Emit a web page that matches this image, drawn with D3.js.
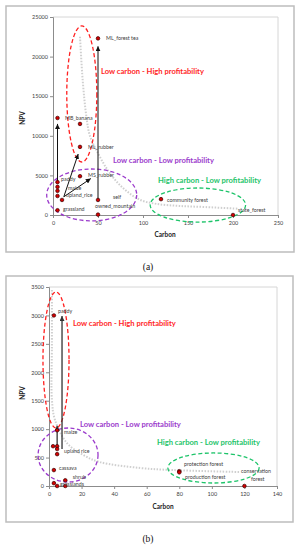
<!DOCTYPE html>
<html>
<head>
<meta charset="utf-8">
<script src="https://cdn.jsdelivr.net/npm/d3@7"></script>
<style>
  body { margin: 0; background: #fff; }
  text { font-family: Lato, "Open Sans", sans-serif; }
</style>
</head>
<body>
<svg id="chart"></svg>
<script>
// ---- panel (a) data ----
const xTicksA = [0, 50, 100, 150, 200, 250]
const yTicksA = [0, 5000, 10000, 15000, 20000, 25000]
const pointsA = [
  [50, 22300], [5, 12250], [30, 11500], [30, 8600], [30, 4900],
  [5, 4150], [5, 3550], [5, 3050], [5, 2400], [10, 1900], [5, 600],
  [50, 1900], [50, 50], [120, 2000], [200, 0]
]
const labelsA = [
  ["ML_forest tea", 59, 22220], ["MB_banana", 13.3, 12120], ["ML_rubber", 39, 8460],
  ["MS_rubber", 39, 4920], ["paddy", 9, 4420], ["maize", 16.7, 3280],
  ["upland_rice", 14.4, 2400], ["grassland", 11, 630], ["self", 66.7, 2150],
  ["owned_mountain", 46.7, 1010], ["community forest", 126.7, 1770], ["state_forest", 205.6, 505]
]
const arrowsA = [
  [5, 4150, 5, 11500], [50, 1900, 50, 21300], [12, 2300, 28, 7700], [12, 2300, 42, 4600]
]
const curveA = [
  [30, 22500], [33, 17000], [37, 12500], [41, 10000], [50, 7800], [60, 5800], [70, 4300],
  [82, 3000], [97, 1900], [115, 1400], [140, 1150], [170, 1000], [205, 800]
]
const zonesA = [
  {zone: "high", cx: 32, cy: 15280, rx: 16.7, ry: 8590, text: "Low carbon - High profitability", tx: 53.3, ty: 18050},
  {zone: "low", cx: 43, cy: 2530, rx: 50, ry: 3280, text: "Low carbon - Low profitability", tx: 66.7, ty: 6820},
  {zone: "carbon", cx: 161, cy: 1260, rx: 53, ry: 2150, text: "High carbon - Low profitability", tx: 116.7, ty: 4290}
]

// ---- panel (b) data ----
const xTicksB = [0, 20, 40, 60, 80, 100, 120, 140]
const yTicksB = [0, 500, 1000, 1500, 2000, 2500, 3000, 3500]
const pointsB = [
  [3, 3000], [5, 980], [2.5, 700], [5, 700], [5, 650], [5, 560], [3, 280],
  [3, 50], [5, 0], [10, 100], [10, 0], [80, 260], [80, 240], [120, 0]
]
const labelsB = [
  ["paddy", 5.5, 3060], ["maize", 9.2, 930], ["upland rice", 9.2, 600], ["cassava", 6.1, 300],
  ["shrub", 14.6, 150], ["grasslands", 6.8, 30], ["protection forest", 82.9, 370],
  ["production forest", 83.5, 140], ["conservation", 117.9, 246], ["forest", 124, 105]
]
const arrowsB = [[8, 650, 8, 2990], [5, 700, 5, 1060]]
const curveB = [
  [1.8, 3447], [1.8, 2500], [1.8, 1512], [3.7, 1161], [11, 756], [21, 545],
  [31, 422], [56, 317], [76, 281], [117, 246]
]
const zonesB = [
  {zone: "high", cx: 4.3, cy: 2216, rx: 8, ry: 1196, text: "Low carbon - High profitability", tx: 14.7, ty: 2850},
  {zone: "low", cx: 11.7, cy: 545, rx: 18.4, ry: 475, text: "Low carbon - Low profitability", tx: 19, ty: 1070},
  {zone: "carbon", cx: 101, cy: 317, rx: 28, ry: 264, text: "High carbon - Low profitability", tx: 66.3, ty: 756}
]

const zoneColour = {high: "#ff1f1f", low: "#9b3bcc", carbon: "#1ec46a"}

const svg = d3.select("#chart").attr("width", 299).attr("height", 550)

const defs = svg.append("defs")
function addMarker(id, colour) {
  defs.append("marker")
    .attr("id", id)
    .attr("viewBox", "0 0 10 10")
    .attr("refX", 10).attr("refY", 5)
    .attr("markerWidth", 5).attr("markerHeight", 5)
    .attr("markerUnits", "userSpaceOnUse")
    .attr("orient", "auto")
    .append("path")
    .attr("d", "M0,0L10,5L0,10Z")
    .attr("fill", colour)
}
addMarker("headBlack", "#111")
addMarker("headGrey", "#333")

function drawPanel(p) {
  const g = svg.append("g")

  // outer frame
  g.append("rect")
    .attr("x", p.box[0]).attr("y", p.box[1])
    .attr("width", p.box[2] - p.box[0]).attr("height", p.box[3] - p.box[1])
    .attr("fill", "#fff").attr("stroke", "#bdbdbd").attr("stroke-width", 1.5)

  const x = d3.scaleLinear().domain(p.xDomain).range([p.plot[0], p.plot[2]])
  const y = d3.scaleLinear().domain(p.yDomain).range([p.plot[3], p.plot[1]])

  // plot area border (top / right)
  g.append("path")
    .attr("d", `M${p.plot[0]},${p.plot[1]}H${p.plot[2]}V${p.plot[3]}`)
    .attr("fill", "none").attr("stroke", "#d6d6d6").attr("stroke-width", 1)

  const xAxis = g.append("g")
    .attr("transform", `translate(0,${p.plot[3]})`)
    .call(d3.axisBottom(x).tickValues(p.xTicks).tickFormat(d3.format("d")).tickSize(3).tickPadding(3))
  const yAxis = g.append("g")
    .attr("transform", `translate(${p.plot[0]},0)`)
    .call(d3.axisLeft(y).tickValues(p.yTicks).tickFormat(d3.format("d")).tickSize(3).tickPadding(2))
  ;[xAxis, yAxis].forEach(a => {
    a.select(".domain").attr("stroke", "#8c8c8c")
    a.selectAll(".tick line").attr("stroke", "#8c8c8c")
    a.selectAll(".tick text").attr("fill", "#404040")
      .style("font-size", "5.5px").style("font-family", "Lato, sans-serif")
  })

  // axis titles
  g.append("text")
    .attr("x", p.xTitle[0]).attr("y", p.xTitle[1])
    .attr("text-anchor", "middle").attr("dominant-baseline", "middle")
    .attr("font-size", 6.5).attr("font-weight", "bold").attr("fill", "#222")
    .text("Carbon")
  g.append("text")
    .attr("transform", `translate(${p.yTitle[0]},${p.yTitle[1]}) rotate(-90)`)
    .attr("text-anchor", "middle").attr("dominant-baseline", "middle")
    .attr("font-size", 6.5).attr("font-weight", "bold").attr("fill", "#222")
    .text("NPV")

  // trade-off curve
  g.append("path")
    .datum(p.curve)
    .attr("d", d3.line().x(d => x(d[0])).y(d => y(d[1])).curve(d3.curveCatmullRom))
    .attr("fill", "none").attr("stroke", "#cfcfcf")
    .attr("stroke-width", 2).attr("stroke-dasharray", "1.5,1.5")

  // zone ellipses
  g.selectAll(".zone")
    .data(p.zones)
    .enter().append("ellipse")
    .attr("cx", d => x(d.cx)).attr("cy", d => y(d.cy))
    .attr("rx", d => x(d.cx + d.rx) - x(d.cx))
    .attr("ry", d => y(d.cy - d.ry) - y(d.cy))
    .attr("fill", "none")
    .attr("stroke", d => zoneColour[d.zone])
    .attr("stroke-width", 1.3)
    .attr("stroke-dasharray", "4,2.5")

  // arrows
  g.selectAll(".arrow")
    .data(p.arrows)
    .enter().append("line")
    .attr("x1", d => x(d[0])).attr("y1", d => y(d[1]))
    .attr("x2", d => x(d[2])).attr("y2", d => y(d[3]))
    .attr("stroke", p.arrowColour).attr("stroke-width", p.arrowWidth)
    .attr("marker-end", p.arrowColour === "#111" ? "url(#headBlack)" : "url(#headGrey)")

  // points
  g.selectAll(".pt")
    .data(p.points)
    .enter().append("circle")
    .attr("cx", d => x(d[0])).attr("cy", d => y(d[1]))
    .attr("r", 1.8)
    .attr("fill", "#d40000").attr("stroke", "#3b0000").attr("stroke-width", 0.7)

  // point labels
  g.selectAll(".lbl")
    .data(p.labels)
    .enter().append("text")
    .attr("x", d => x(d[1])).attr("y", d => y(d[2]))
    .attr("dominant-baseline", "middle")
    .attr("font-size", 5.3).attr("fill", "#404040")
    .text(d => d[0])

  // zone titles
  g.selectAll(".ztxt")
    .data(p.zones)
    .enter().append("text")
    .attr("x", d => x(d.tx)).attr("y", d => y(d.ty))
    .attr("dominant-baseline", "middle")
    .attr("font-size", 7.6).attr("font-weight", "bold")
    .attr("fill", d => zoneColour[d.zone])
    .text(d => d.text)

  // caption
  svg.append("text")
    .attr("x", p.caption[0]).attr("y", p.caption[1])
    .attr("text-anchor", "middle").attr("dominant-baseline", "middle")
    .style("font-family", "'Liberation Serif', 'DejaVu Serif', serif")
    .attr("font-size", 9.5).attr("fill", "#111")
    .text(p.captionText)
}

drawPanel({
  box: [6, 6, 294, 252], plot: [53, 17, 278, 215],
  xDomain: [0, 250], yDomain: [0, 25000], xTicks: xTicksA, yTicks: yTicksA,
  points: pointsA, labels: labelsA, arrows: arrowsA, curve: curveA, zones: zonesA,
  arrowColour: "#111", arrowWidth: 1,
  xTitle: [165, 235], yTitle: [23, 118], caption: [148, 268], captionText: "(a)"
})

drawPanel({
  box: [6, 276, 293, 522], plot: [49, 287, 277, 486],
  xDomain: [0, 140], yDomain: [0, 3500], xTicks: xTicksB, yTicks: yTicksB,
  points: pointsB, labels: labelsB, arrows: arrowsB, curve: curveB, zones: zonesB,
  arrowColour: "#333", arrowWidth: 1.3,
  xTitle: [163, 507], yTitle: [23, 393], caption: [148, 540], captionText: "(b)"
})
</script>
</body>
</html>
